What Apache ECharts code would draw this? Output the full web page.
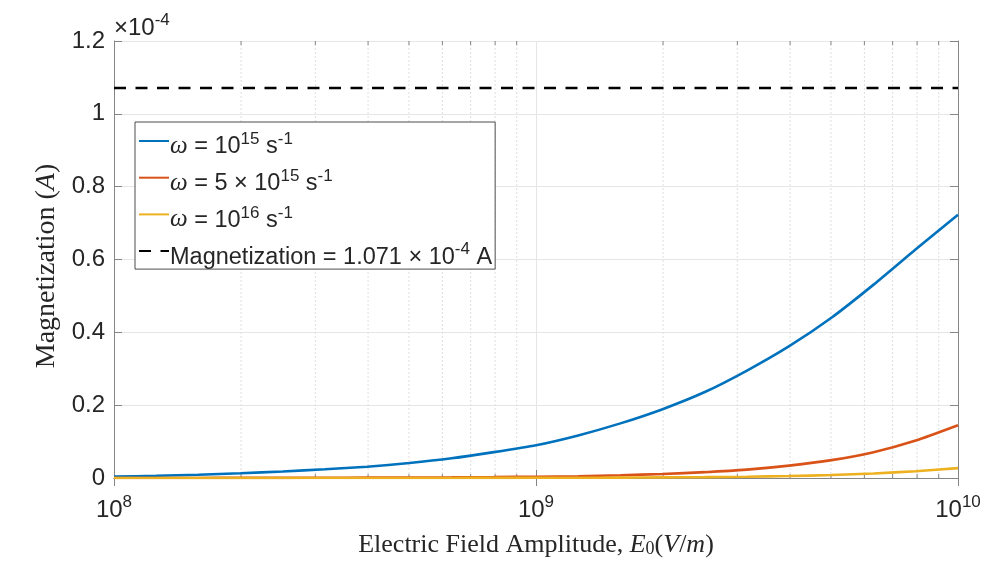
<!DOCTYPE html>
<html>
<head>
<meta charset="utf-8">
<script src="https://cdn.jsdelivr.net/npm/echarts@6/dist/echarts.min.js"></script>
<style>
  html, body { margin: 0; padding: 0; background: #ffffff; }
  #chart { width: 990px; height: 564px; }
</style>
</head>
<body>
<div id="chart"></div>
<script>
// Electric field amplitude E0 (V/m), log-spaced samples
const fieldAmplitude = [
  1e8, 1.259e8, 1.585e8, 1.995e8, 2.512e8, 3.162e8, 3.981e8, 5.012e8, 6.310e8, 7.943e8,
  1e9, 1.259e9, 1.585e9, 1.995e9, 2.512e9, 3.162e9, 3.981e9, 5.012e9, 6.310e9, 7.943e9,
  1e10
];

// Magnetization in units of 1e-4 A
const magOmega1e15 = [
  0.004, 0.006, 0.009, 0.013, 0.018, 0.024, 0.031, 0.041, 0.054, 0.071,
  0.090, 0.117, 0.150, 0.189, 0.236, 0.295, 0.362, 0.440, 0.531, 0.628,
  0.723
];
const magOmega5e15 = [
  0.0001, 0.0001, 0.0002, 0.0003, 0.0004, 0.0006, 0.0009, 0.0013, 0.0018, 0.0025,
  0.0035, 0.005, 0.0075, 0.011, 0.016, 0.023, 0.034, 0.049, 0.071, 0.103,
  0.145
];
const magOmega1e16 = [
  0, 0, 0, 0, 0.0001, 0.0001, 0.0001, 0.0001, 0.0002, 0.0003,
  0.0005, 0.0007, 0.0011, 0.0016, 0.0024, 0.0035, 0.0053, 0.0082, 0.0125, 0.0185,
  0.027
];
const saturationLevel = 1.071;

// Axis ranges and ticks
const xMin = 1e8, xMax = 1e10;
const yMin = 0, yMax = 1.2, yStep = 0.2;
const minorTickValues = [
  2e8, 3e8, 4e8, 5e8, 6e8, 7e8, 8e8, 9e8,
  2e9, 3e9, 4e9, 5e9, 6e9, 7e9, 8e9, 9e9
];

const seriesNames = ['w1e15', 'w5e15', 'w1e16', 'sat'];
const legendLabels = {
  w1e15: '{w|\u03C9}{t| = 10}{s|15}{t| s}{s|-1}',
  w5e15: '{w|\u03C9}{t| = 5 \u00D7 10}{s|15}{t| s}{s|-1}',
  w1e16: '{w|\u03C9}{t| = 10}{s|16}{t| s}{s|-1}',
  sat:   '{t|Magnetization = 1.071 \u00D7 10}{s|-4}{t| A}'
};
const colors = ['#0072BD', '#D95319', '#EDB120', '#000000'];

const SANS = 'Liberation Sans';
const SERIF = 'Liberation Serif';
const axisColor = '#858585';
const textColor = '#262626';

// base text with a raised superscript token
function supRich(base, sup) {
  return {
    t: { fontFamily: SANS, fontSize: base, color: textColor, lineHeight: 28, verticalAlign: 'bottom' },
    s: { fontFamily: SANS, fontSize: sup, color: textColor, lineHeight: 14, verticalAlign: 'top' }
  };
}

const legendRich = {
  t: { fontFamily: SANS, fontSize: 23.5, color: textColor, lineHeight: 28, verticalAlign: 'bottom' },
  w: { fontFamily: SERIF, fontStyle: 'italic', fontSize: 25, color: textColor, lineHeight: 28, verticalAlign: 'bottom' },
  s: { fontFamily: SANS, fontSize: 17, color: textColor, lineHeight: 14, verticalAlign: 'top' }
};

const chart = echarts.init(document.getElementById('chart'), null, { renderer: 'canvas' });

const lineSeries = (name, values, color) => ({
  name: name,
  type: 'line',
  data: fieldAmplitude.map((e, i) => [e, values[i]]),
  symbol: 'none',
  smooth: 0.2,
  lineStyle: { color: color, width: 2.6 },
  itemStyle: { color: color },
  z: 3
});

const option = {
  animation: false,
  backgroundColor: '#ffffff',
  grid: { left: 114, right: 32, top: 41, bottom: 86, containLabel: false },
  xAxis: [
    {
      type: 'log', logBase: 10, min: xMin, max: xMax, position: 'bottom',
      axisLine: { show: true, lineStyle: { color: axisColor, width: 1 } },
      axisTick: { show: true, inside: true, length: 8, lineStyle: { color: axisColor } },
      axisLabel: {
        margin: 16,
        formatter: v => '{t|10}{s|' + Math.round(Math.log10(v)) + '}',
        rich: supRich(24, 17)
      },
      splitLine: { show: true, lineStyle: { color: '#e6e6e6', width: 1 } },
      name: '{r|Electric Field Amplitude, }{i|E}{sub|0}{r|(}{i|V}{r|/}{i|m}{r|)}',
      nameLocation: 'middle', nameGap: 50,
      nameTextStyle: {
        rich: {
          r: { fontFamily: SERIF, fontSize: 26, color: textColor, lineHeight: 30, verticalAlign: 'bottom' },
          i: { fontFamily: SERIF, fontStyle: 'italic', fontSize: 26, color: textColor, lineHeight: 30, verticalAlign: 'bottom' },
          sub: { fontFamily: SERIF, fontSize: 18, color: textColor, lineHeight: 20, verticalAlign: 'bottom' }
        }
      }
    },
    {
      type: 'log', logBase: 10, min: xMin, max: xMax, position: 'top',
      axisLine: { show: true, lineStyle: { color: axisColor, width: 1 } },
      axisTick: { show: true, inside: true, length: 8, lineStyle: { color: axisColor } },
      axisLabel: { show: false },
      splitLine: { show: false }
    }
  ],
  yAxis: [
    {
      type: 'value', min: yMin, max: yMax, interval: yStep, position: 'left',
      axisLine: { show: true, lineStyle: { color: axisColor, width: 1 } },
      axisTick: { show: true, inside: true, length: 8, lineStyle: { color: axisColor } },
      axisLabel: { margin: 9, fontFamily: SANS, fontSize: 24, color: textColor },
      splitLine: { show: true, lineStyle: { color: '#e6e6e6', width: 1 } },
      name: '{t|\u00D710}{s|-4}',
      nameLocation: 'end', nameGap: 1,
      nameTextStyle: {
        align: 'left', verticalAlign: 'bottom',
        rich: supRich(24, 17)
      }
    },
    {
      type: 'value', min: yMin, max: yMax, interval: yStep, position: 'right',
      axisLine: { show: true, lineStyle: { color: axisColor, width: 1 } },
      axisTick: { show: true, inside: true, length: 8, lineStyle: { color: axisColor } },
      axisLabel: { show: false },
      splitLine: { show: false }
    }
  ],
  legend: {
    data: seriesNames,
    orient: 'vertical',
    left: 135, top: 122,
    padding: [9, 3, 0, 3],
    itemGap: 8.7,
    itemWidth: 30, itemHeight: 0.5,
    backgroundColor: '#ffffff',
    borderColor: '#4d4d4d', borderWidth: 1, borderRadius: 0,
    selectedMode: false,
    formatter: name => legendLabels[name],
    textStyle: { fontFamily: SANS, fontSize: 23.5, color: textColor, padding: [8, 0, 0, -4], rich: legendRich }
  },
  graphic: [
    {
      type: 'text',
      x: 47, y: 266,
      rotation: Math.PI / 2,
      style: {
        text: '{r|Magnetization }{r|(}{i|A}{r|)}',
        align: 'center', verticalAlign: 'middle',
        rich: {
          r: { fontFamily: SERIF, fontSize: 28, fill: textColor, color: textColor },
          i: { fontFamily: SERIF, fontStyle: 'italic', fontSize: 28, fill: textColor, color: textColor }
        }
      }
    }
  ],
  series: [
    {
      // minor grid lines and minor ticks at 2..9 x 10^n
      name: 'minor',
      type: 'custom',
      silent: true,
      z: 1,
      data: minorTickValues.map(v => [v, 0]),
      encode: { x: 0, y: 1 },
      renderItem: function (params, api) {
        const v = api.value(0);
        const b = api.coord([v, yMin]);
        const t = api.coord([v, yMax]);
        return {
          type: 'group',
          children: [
            { type: 'line', shape: { x1: b[0], y1: b[1], x2: t[0], y2: t[1] },
              style: { stroke: '#dedede', lineWidth: 1, lineDash: [2, 2] } },
            { type: 'line', shape: { x1: b[0], y1: b[1], x2: b[0], y2: b[1] - 4 },
              style: { stroke: axisColor, lineWidth: 1 } },
            { type: 'line', shape: { x1: t[0], y1: t[1], x2: t[0], y2: t[1] + 4 },
              style: { stroke: axisColor, lineWidth: 1 } }
          ]
        };
      }
    },
    lineSeries('w1e15', magOmega1e15, colors[0]),
    lineSeries('w5e15', magOmega5e15, colors[1]),
    lineSeries('w1e16', magOmega1e16, colors[2]),
    {
      name: 'sat',
      type: 'line',
      data: [[xMin, saturationLevel], [xMax, saturationLevel]],
      symbol: 'none',
      lineStyle: { color: colors[3], width: 2.6, type: [12, 9.5] },
      itemStyle: { color: colors[3] },
      z: 3
    }
  ]
};

chart.setOption(option);
</script>
</body>
</html>
